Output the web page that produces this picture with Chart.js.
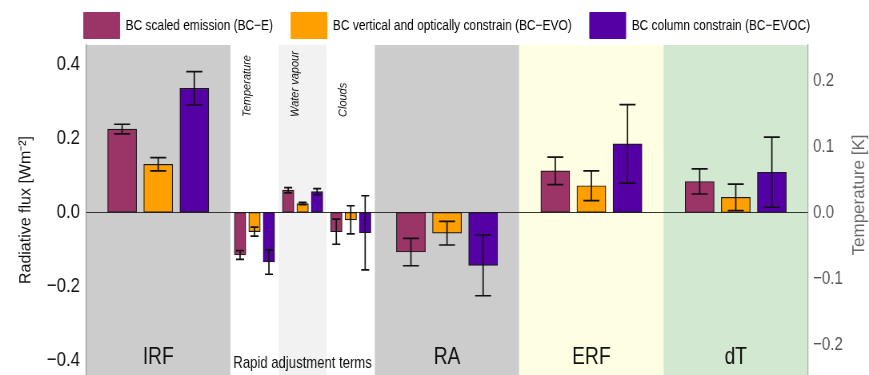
<!DOCTYPE html>
<html>
<head>
<meta charset="utf-8">
<script src="https://cdn.jsdelivr.net/npm/chart.js@4.4.1/dist/chart.umd.min.js"></script>
<style>
body{margin:0;background:#fff;overflow:hidden;width:869px;height:375px;}
/* the source figure is squeezed horizontally, so draw wide and squeeze */
#wrap{width:1086px;height:375px;transform:scaleX(0.8002);transform-origin:0 0;}
</style>
</head>
<body>
<div id="wrap"><canvas id="chart"></canvas></div>
<script>
const categories = ["IRF","Temperature","Water vapour","Clouds","RA","ERF","dT"];
const groupLabel = "Rapid adjustment terms";

const seriesNames = [
    "BC scaled emission (BC\u2212E)",
    "BC vertical and optically constrain (BC\u2212EVO)",
    "BC column constrain (BC\u2212EVOC)"
];

// flux in W m-2, the last value (dT) in K
const bcE       = [0.225, -0.115, 0.060, -0.052, -0.107, 0.112, 0.047];
const bcEErr    = [0.013,  0.012, 0.007,  0.034,  0.037, 0.037, 0.019];
const bcEVO     = [0.130, -0.052, 0.024, -0.020, -0.056, 0.072, 0.023];
const bcEVOErr  = [0.018,  0.012, 0.003,  0.038,  0.032, 0.040, 0.020];
const bcEVOC    = [0.335, -0.134, 0.056, -0.055, -0.143, 0.185, 0.061];
const bcEVOCErr = [0.045,  0.033, 0.008,  0.100,  0.082, 0.106, 0.053];

const fluxTicks = [0.4, 0.2, 0, -0.2, -0.4];
const tempTicks = [0.2, 0.1, 0, -0.1, -0.2];

const seriesValues = [bcE, bcEVO, bcEVOC];
const seriesErrors = [bcEErr, bcEVOErr, bcEVOCErr];
const colors = ["#9b3467", "#ff9f00", "#5500a5"];
const bgColors = ["#cccccc", "#ffffff", "#f2f2f2", "#ffffff", "#cccccc", "#fefee2", "#d2e8d0"];

const FONT = "'Liberation Sans', Arial, sans-serif";
const SQUEEZE = 0.8002;

// wide panels take 3 slots on the x axis, the rapid adjustment terms 1
const spans = categories.map(c =>
    ["Temperature","Water vapour","Clouds"].includes(c) ? 1 : 3
);
const starts = [];
let acc = 0;
spans.forEach(s => { starts.push(acc); acc += s; });

const datasets = [];

seriesNames.forEach((name, k) => {
    categories.forEach((cat, c) => {
        const small = spans[c] === 1;
        const step = small ? 0.3 : 0.75;
        datasets.push({
            label: name,
            data: [{ x: starts[c] + spans[c] / 2 + (k - 1) * step, y: seriesValues[k][c] }],
            err: seriesErrors[k][c],
            capWidth: small ? 10 : 20,
            yAxisID: cat === "dT" ? "yT" : "y",
            backgroundColor: colors[k],
            borderColor: "#1a1a1a",
            borderWidth: 1.2,
            borderSkipped: false,
            barThickness: small ? 14.4 : 36.2,
            grouped: false
        });
    });
});

function fmt(v){
    return (v < 0 ? "\u2212" : "") + Math.abs(v).toFixed(1);
}

// text that runs upwards, un-squeezed so the glyphs keep their shape
function upText(ctx, text, x, y, font, color, align, baseline){
    ctx.save();
    ctx.font = font;
    ctx.fillStyle = color;
    ctx.translate(x, y);
    ctx.rotate(-Math.PI / 2);
    ctx.scale(1, 1 / SQUEEZE);
    ctx.textAlign = align;
    ctx.textBaseline = baseline;
    ctx.fillText(text, 0, 0);
    ctx.restore();
}

const panels = {
    id: "panels",
    beforeDraw(chart){
        const { ctx, chartArea, scales: { x } } = chart;
        ctx.save();
        categories.forEach((c, i) => {
            const x0 = x.getPixelForValue(starts[i]);
            const x1 = x.getPixelForValue(starts[i] + spans[i]);
            ctx.fillStyle = bgColors[i];
            ctx.fillRect(x0, chartArea.top, x1 - x0, chartArea.bottom - chartArea.top);
        });
        ctx.restore();
    },
    beforeDatasetsDraw(chart){
        const { ctx, chartArea, scales: { y } } = chart;
        const y0 = Math.round(y.getPixelForValue(0)) + 0.5;
        ctx.save();
        ctx.strokeStyle = "#333";
        ctx.lineWidth = 1;
        ctx.beginPath();
        ctx.moveTo(chartArea.left, y0);
        ctx.lineTo(chartArea.right, y0);
        ctx.stroke();
        ctx.restore();
    },
    afterDatasetsDraw(chart){
        const { ctx, chartArea, scales } = chart;
        const x = scales.x;
        ctx.save();

        // error bars
        ctx.strokeStyle = "#111";
        ctx.lineWidth = 1.7;
        chart.data.datasets.forEach((ds, i) => {
            const meta = chart.getDatasetMeta(i);
            const ys = scales[ds.yAxisID];
            meta.data.forEach((bar, j) => {
                const v = ds.data[j].y;
                const top = ys.getPixelForValue(v + ds.err);
                const bot = ys.getPixelForValue(v - ds.err);
                const h = ds.capWidth / 2;
                ctx.beginPath();
                ctx.moveTo(bar.x, top);
                ctx.lineTo(bar.x, bot);
                ctx.moveTo(bar.x - h, top);
                ctx.lineTo(bar.x + h, top);
                ctx.moveTo(bar.x - h, bot);
                ctx.lineTo(bar.x + h, bot);
                ctx.stroke();
            });
        });

        // panel labels
        ctx.fillStyle = "#111";
        ctx.textAlign = "center";
        ctx.textBaseline = "middle";
        let smallMin = null, smallMax = null;
        categories.forEach((c, i) => {
            const cx = x.getPixelForValue(starts[i] + spans[i] / 2);
            if(spans[i] === 1){
                if(smallMin === null) smallMin = starts[i];
                smallMax = starts[i] + spans[i];
                upText(ctx, c, x.getPixelForValue(starts[i] + 0.35), 117,
                    "italic 11px " + FONT, "#111", "left", "middle");
            }else{
                ctx.font = "24px " + FONT;
                ctx.fillText(c, cx, 357);
            }
        });
        ctx.font = "16.4px " + FONT;
        ctx.fillText(groupLabel, x.getPixelForValue((smallMin + smallMax) / 2), 363);

        // axis titles
        upText(ctx, "Radiative flux [Wm\u207B\u00B2]", 32.5,
            (chartArea.top + chartArea.bottom) / 2,
            "16px " + FONT, "#111", "center", "middle");
        upText(ctx, "Temperature [K]", 1080, 195,
            "17px " + FONT, "#6a6a6a", "center", "alphabetic");

        ctx.restore();
    }
};

function noPad(scale){
    scale.paddingTop = 0;
    scale.paddingBottom = 0;
}

new Chart(document.getElementById("chart"), {
    type: "bar",
    data: { datasets },
    plugins: [panels],
    options: {
        responsive: true,
        maintainAspectRatio: false,
        animation: false,
        layout: { padding: { top: -10, left: 31, right: 0, bottom: 0 }, autoPadding: false },
        plugins: {
            tooltip: { enabled: false },
            legend: {
                position: "top",
                maxHeight: 55,
                labels: {
                    boxWidth: 45,
                    boxHeight: 26,
                    padding: 22.5,
                    color: "#111",
                    font: { family: FONT, size: 14.9 },
                    generateLabels: () => seriesNames.map((n, k) => ({
                        text: n,
                        fillStyle: colors[k],
                        strokeStyle: colors[k],
                        lineWidth: 1,
                        hidden: false,
                        datasetIndex: k
                    }))
                }
            }
        },
        scales: {
            x: {
                type: "linear",
                min: 0,
                max: acc,
                offset: false,
                display: false
            },
            y: {
                position: "left",
                min: -0.439,
                max: 0.452,
                afterFit(scale){ scale.width = 76.5; noPad(scale); },
                afterBuildTicks(scale){ scale.ticks = fluxTicks.map(v => ({ value: v })); },
                grid: { display: false, drawTicks: false },
                border: { display: true, color: "#999", width: 1.2 },
                ticks: {
                    padding: 7.5,
                    color: "#111",
                    font: { family: FONT, size: 21 },
                    callback: v => fmt(v)
                }
            },
            yT: {
                position: "right",
                min: -0.246,
                max: 0.2536,
                afterFit(scale){ scale.width = 76.3; noPad(scale); },
                afterBuildTicks(scale){ scale.ticks = tempTicks.map(v => ({ value: v })); },
                grid: { display: false, drawTicks: false },
                border: { display: true, color: "#aaa", width: 1.2, dash: [3, 3] },
                ticks: {
                    padding: 6.2,
                    color: "#555",
                    font: { family: FONT, size: 19 },
                    callback: v => fmt(v)
                }
            }
        }
    }
});
</script>
</body>
</html>
